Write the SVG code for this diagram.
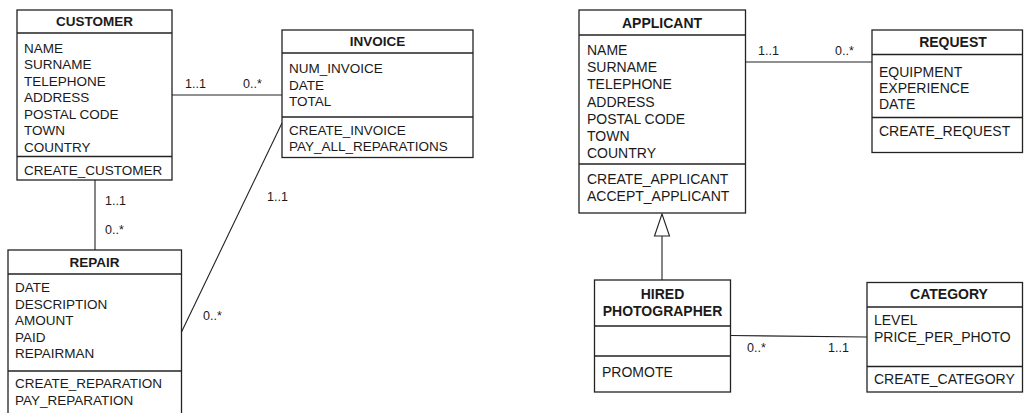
<svg xmlns="http://www.w3.org/2000/svg" width="1024" height="413" viewBox="0 0 1024 413">
<style>
.box{fill:#fff;stroke:#222;stroke-width:1.3}
.div{stroke:#222;stroke-width:1.3}
.ln{stroke:#222;stroke-width:1.1;fill:none}
text{font-family:"Liberation Sans",Arial,sans-serif;fill:#1a1a1a}
.l{font-size:13.5px}
.r{font-size:14px}
.t{font-weight:bold;text-anchor:middle}
.m{font-size:12.5px}
</style>
<rect width="1024" height="413" fill="#fff"/>
<g id="connectors">
<line class="ln" x1="172" y1="95" x2="282" y2="95"/>
<line class="ln" x1="95" y1="180" x2="95" y2="250"/>
<line class="ln" x1="282" y1="123" x2="181.5" y2="332"/>
<line class="ln" x1="745.5" y1="62" x2="872" y2="62"/>
<line class="ln" x1="730.5" y1="335.5" x2="867" y2="337"/>
<line class="ln" x1="662" y1="280" x2="662" y2="236"/>
<polygon points="662,214 654.5,236 669.5,236" fill="#fff" stroke="#222" stroke-width="1.1"/>
<text class="m" x="185" y="88">1..1</text>
<text class="m" x="243" y="88">0..*</text>
<text class="m" x="105" y="205">1..1</text>
<text class="m" x="105" y="234">0..*</text>
<text class="m" x="267" y="201">1..1</text>
<text class="m" x="203" y="320">0..*</text>
<text class="m" x="758" y="55">1..1</text>
<text class="m" x="835" y="55">0..*</text>
<text class="m" x="747" y="352">0..*</text>
<text class="m" x="828" y="352">1..1</text>
</g>
<g id="customer">
<rect class="box" x="17" y="10" width="155" height="170"/>
<line class="div" x1="17" y1="33" x2="172" y2="33"/>
<line class="div" x1="17" y1="156.5" x2="172" y2="156.5"/>
<text class="l t" x="94.5" y="26">CUSTOMER</text>
<text class="l" x="24" y="52.5">NAME</text>
<text class="l" x="24" y="69">SURNAME</text>
<text class="l" x="24" y="85.5">TELEPHONE</text>
<text class="l" x="24" y="102">ADDRESS</text>
<text class="l" x="24" y="118.5">POSTAL CODE</text>
<text class="l" x="24" y="135">TOWN</text>
<text class="l" x="24" y="151.5">COUNTRY</text>
<text class="l" x="24" y="175">CREATE_CUSTOMER</text>
</g>
<g id="invoice">
<rect class="box" x="282" y="30" width="191" height="127.5"/>
<line class="div" x1="282" y1="53" x2="473" y2="53"/>
<line class="div" x1="282" y1="117" x2="473" y2="117"/>
<text class="l t" x="377.5" y="46">INVOICE</text>
<text class="l" x="289" y="73">NUM_INVOICE</text>
<text class="l" x="289" y="89.5">DATE</text>
<text class="l" x="289" y="106">TOTAL</text>
<text class="l" x="289" y="135">CREATE_INVOICE</text>
<text class="l" x="289" y="151">PAY_ALL_REPARATIONS</text>
</g>
<g id="repair">
<rect class="box" x="8" y="250" width="173.5" height="175"/>
<line class="div" x1="8" y1="274" x2="181.5" y2="274"/>
<line class="div" x1="8" y1="371" x2="181.5" y2="371"/>
<text class="l t" x="94.5" y="267">REPAIR</text>
<text class="l" x="15" y="292">DATE</text>
<text class="l" x="15" y="308.6">DESCRIPTION</text>
<text class="l" x="15" y="325.2">AMOUNT</text>
<text class="l" x="15" y="341.8">PAID</text>
<text class="l" x="15" y="358.4">REPAIRMAN</text>
<text class="l" x="15" y="388">CREATE_REPARATION</text>
<text class="l" x="15" y="404.5">PAY_REPARATION</text>
</g>
<g id="applicant">
<rect class="box" x="579" y="10" width="166.5" height="203"/>
<line class="div" x1="579" y1="35" x2="745.5" y2="35"/>
<line class="div" x1="579" y1="164" x2="745.5" y2="164"/>
<text class="r t" x="662" y="27.5">APPLICANT</text>
<text class="r" x="587" y="55">NAME</text>
<text class="r" x="587" y="72.2">SURNAME</text>
<text class="r" x="587" y="89.4">TELEPHONE</text>
<text class="r" x="587" y="106.6">ADDRESS</text>
<text class="r" x="587" y="123.8">POSTAL CODE</text>
<text class="r" x="587" y="141">TOWN</text>
<text class="r" x="587" y="158.2">COUNTRY</text>
<text class="r" x="587" y="184.3">CREATE_APPLICANT</text>
<text class="r" x="587" y="200.7">ACCEPT_APPLICANT</text>
</g>
<g id="request">
<rect class="box" x="872" y="30" width="150.5" height="122.5"/>
<line class="div" x1="872" y1="54.5" x2="1022.5" y2="54.5"/>
<line class="div" x1="872" y1="117.5" x2="1022.5" y2="117.5"/>
<text class="r t" x="953" y="47">REQUEST</text>
<text class="r" x="879" y="77">EQUIPMENT</text>
<text class="r" x="879" y="93">EXPERIENCE</text>
<text class="r" x="879" y="109">DATE</text>
<text class="r" x="879" y="136">CREATE_REQUEST</text>
</g>
<g id="hired-photographer">
<rect class="box" x="594.5" y="280" width="136" height="112"/>
<line class="div" x1="594.5" y1="326" x2="730.5" y2="326"/>
<line class="div" x1="594.5" y1="356" x2="730.5" y2="356"/>
<text class="r t" x="662.5" y="299">HIRED</text>
<text class="r t" x="662.5" y="316">PHOTOGRAPHER</text>
<text class="r" x="602" y="377">PROMOTE</text>
</g>
<g id="category">
<rect class="box" x="867" y="282.5" width="155.5" height="109.5"/>
<line class="div" x1="867" y1="307" x2="1022.5" y2="307"/>
<line class="div" x1="867" y1="366.5" x2="1022.5" y2="366.5"/>
<text class="r t" x="949" y="298.5">CATEGORY</text>
<text class="r" x="874" y="325">LEVEL</text>
<text class="r" x="874" y="342">PRICE_PER_PHOTO</text>
<text class="r" x="874" y="384">CREATE_CATEGORY</text>
</g>
</svg>
